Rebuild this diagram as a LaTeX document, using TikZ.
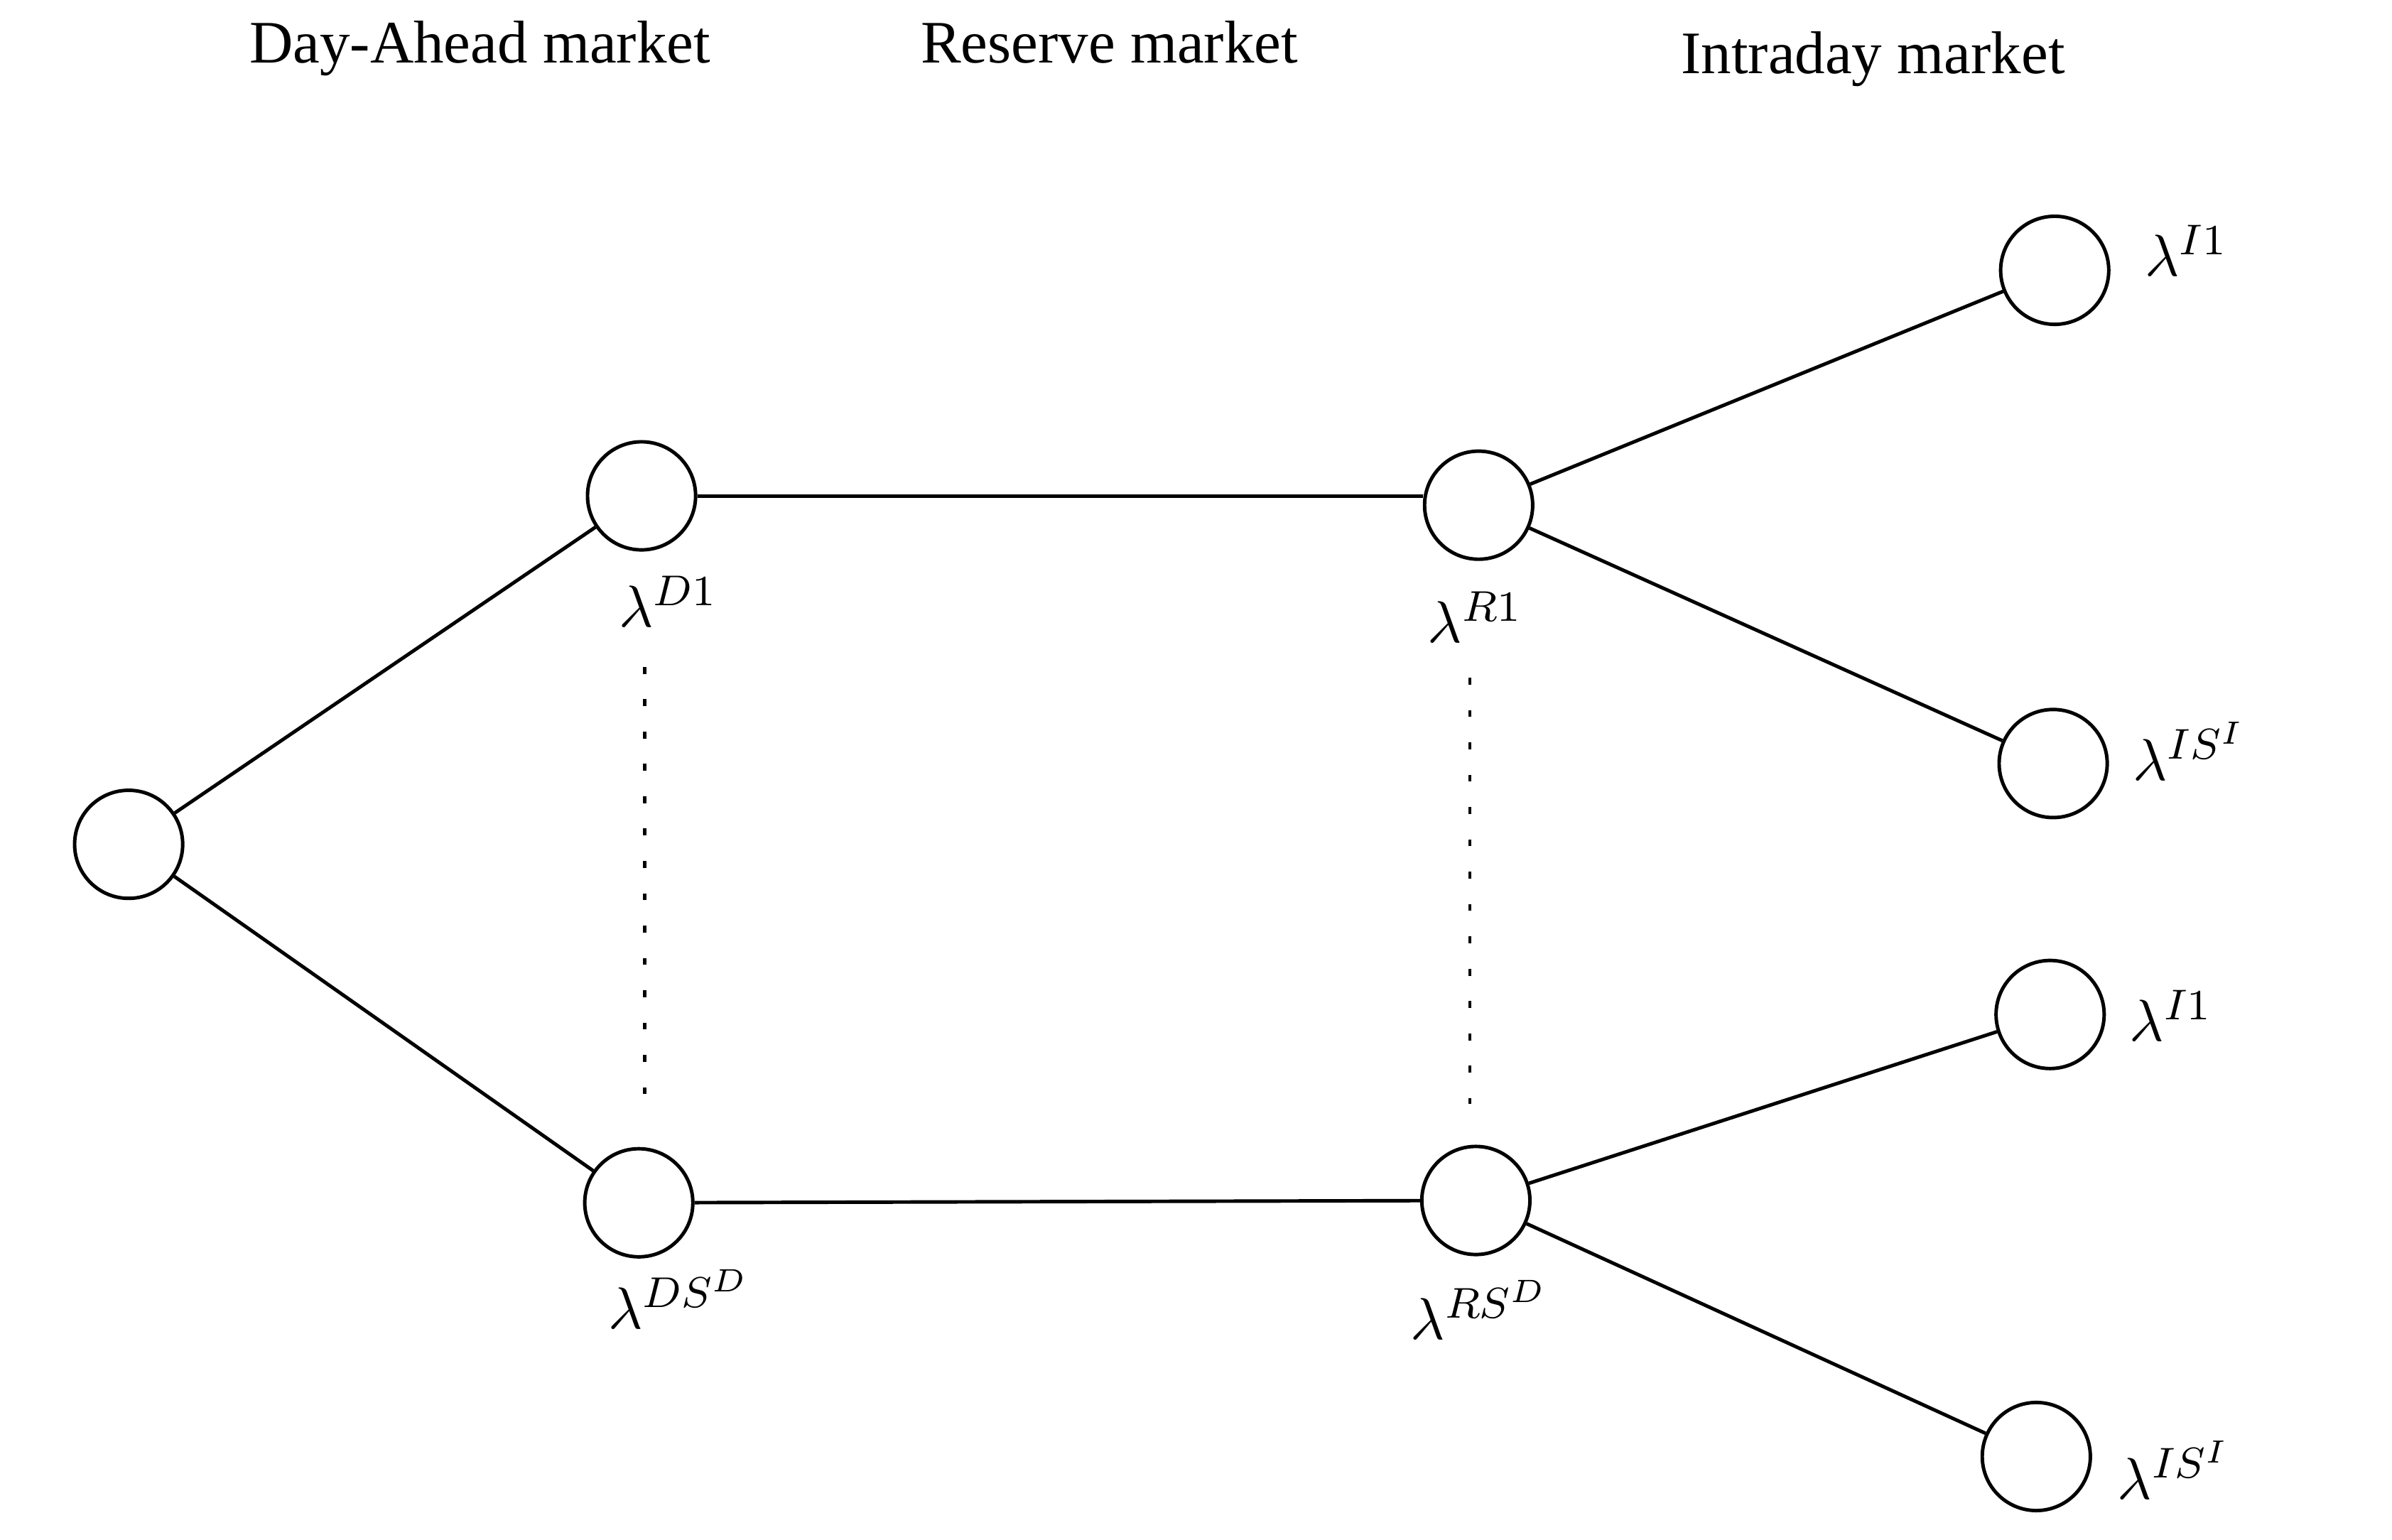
\documentclass[tikz,border=0pt,11pt]{standalone}
\usepackage[no-math]{fontspec}
\setmainfont{Liberation Serif}
\begin{document}
\begin{tikzpicture}[
        state/.style={draw,circle,minimum size=7.05mm,inner sep=0pt,line width=0.65pt},
        title/.style={anchor=base,font=\fontsize{11.2}{13.4}\selectfont},
        branch/.style={line width=0.65pt},
        gap/.style={line width=0.65pt,dash pattern=on 1.3pt off 4.7pt}]
        \useasboundingbox (0,0) rectangle (15.60,-10.04);

        \node[title] (tDA) at (3.13,-0.41) {Day-Ahead market};
        \node[title] (tRM) at (7.235,-0.41) {Reserve market};
        \node[title] (tID) at (12.215,-0.48) {Intraday market};

        \node[state] (root) at (0.839,-5.507) {};

        \node[state] (d1) at (4.184,-3.234) {};
        \node[state] (ds) at (4.166,-7.845) {};
        \node[anchor=base] (ld1) at (4.36,-4.087) {$\lambda^{D1}$};
        \node[anchor=base] (lds) at (4.43,-8.666) {$\lambda^{DS^D}$};

        \node[state] (r1) at (9.643,-3.295) {};
        \node[state] (rs) at (9.625,-7.83) {};
        \node[anchor=base] (lr1) at (9.62,-4.19) {$\lambda^{R1}$};
        \node[anchor=base] (lrs) at (9.65,-8.735) {$\lambda^{RS^D}$};

        \node[state] (i1a) at (13.40,-1.763) {};
        \node[state] (isa) at (13.39,-4.98) {};
        \node[state] (i1b) at (13.37,-6.617) {};
        \node[state] (isb) at (13.28,-9.50) {};
        \node[anchor=base] (li1a) at (14.26,-1.80) {$\lambda^{I1}$};
        \node[anchor=base] (lisa) at (14.28,-5.09) {$\lambda^{IS^I}$};
        \node[anchor=base] (li1b) at (14.16,-6.79) {$\lambda^{I1}$};
        \node[anchor=base] (lisb) at (14.18,-9.78) {$\lambda^{IS^I}$};

        \draw[branch] (root) -- (d1);
        \draw[branch] (root) -- (ds);
        \draw[branch] (d1) -- (d1 -| r1.west);
        \draw[branch] (ds) -- (rs);
        \draw[branch] (r1) -- (i1a);
        \draw[branch] (r1) -- (isa);
        \draw[branch] (rs) -- (i1b);
        \draw[branch] (rs) -- (isb);

        \coordinate (g1) at (4.206,-4.35);
        \coordinate (g2) at (4.206,-7.14);
        \coordinate (g3) at (9.586,-4.42);
        \coordinate (g4) at (9.586,-7.20);
        \draw[gap] (g1) -- (g2);
        \draw[gap] (g3) -- (g4);
    \end{tikzpicture}
\end{document}
